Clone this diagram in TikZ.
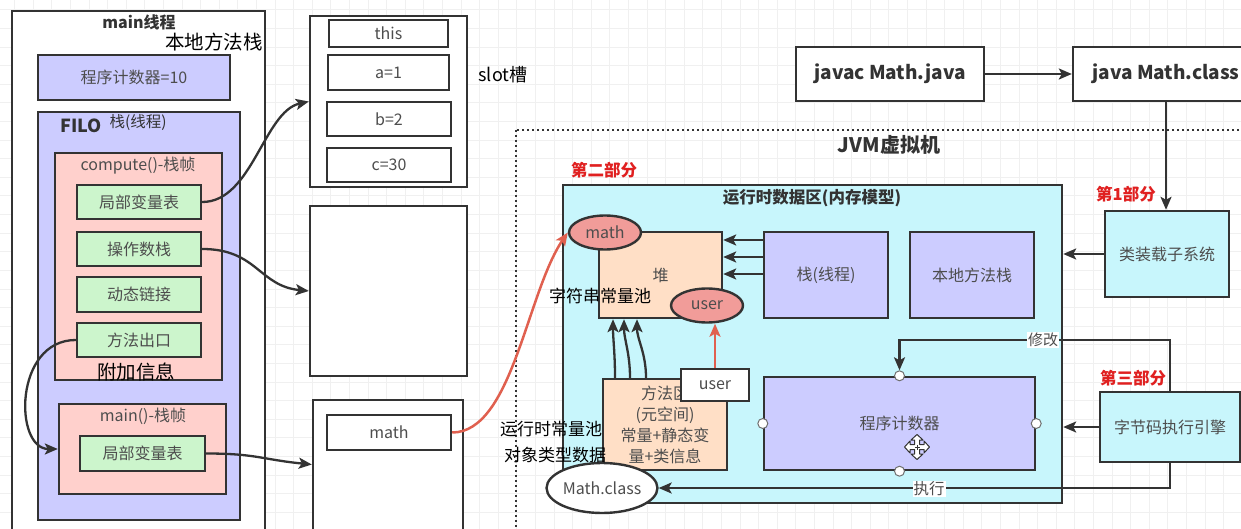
\documentclass[tikz,border=0pt]{standalone}
\usepackage{fontspec}
\setmainfont{Noto Sans CJK SC}
\usetikzlibrary{arrows.meta,shapes.geometric}
\definecolor{bd}{HTML}{333333}
\definecolor{txt}{HTML}{4D4D4D}
\definecolor{lav}{HTML}{CCCCFF}
\definecolor{pinkf}{HTML}{FFD0CC}
\definecolor{grn}{HTML}{CCF5CC}
\definecolor{cyn}{HTML}{C8F6FC}
\definecolor{pch}{HTML}{FFDFC6}
\definecolor{slm}{HTML}{F19C99}
\definecolor{redt}{HTML}{E02020}
\definecolor{reda}{HTML}{E0604F}
\definecolor{gridc}{HTML}{F0F0F0}
\begin{document}
\begin{tikzpicture}[x=1pt,y=-1pt,
  box/.style={draw=bd, line width=2.4pt, inner sep=0pt, text=txt, font=\fontsize{16pt}{20pt}\selectfont},
  ell/.style={ellipse, draw=bd, line width=2.4pt, inner sep=0pt, text=txt, font=\fontsize{16pt}{20pt}\selectfont},
  hd/.style={text=bd, font=\bfseries\fontsize{17pt}{20pt}\selectfont},
  lbl/.style={text=black, font=\fontsize{17pt}{20pt}\selectfont},
  redlbl/.style={text=redt, font=\bfseries\fontsize{16.5pt}{20pt}\selectfont},
  arr/.style={draw=bd, line width=2.3pt, -{Stealth[length=13pt,width=11pt,inset=3pt]}},
  rarr/.style={draw=reda, line width=2.5pt, -{Stealth[length=13pt,width=11pt,inset=3pt]}},
  port/.style={circle, draw=bd!70, fill=white, line width=1pt, minimum size=10pt, inner sep=0pt}
]
\clip (0,0) rectangle (1241,529);
\fill[white] (0,0) rectangle (1241,529);
\foreach \i in {0,...,66} { \draw[gridc, line width=1pt] ({14.6+18.6*\i},0) -- ++(0,529); }
\foreach \j in {0,...,28} { \draw[gridc, line width=1pt] (0,{10+18.6*\j}) -- ++(1241,0); }

% ---------- main thread ----------
\node[box, fill=white, minimum width=253pt, minimum height=528pt] (mt) at (138.5,275) {};
\node[hd, font=\bfseries\fontsize{16pt}{20pt}\selectfont] (mtl) at (139,22) {main线程};
\node[lbl, font=\fontsize{19.5pt}{22pt}\selectfont] (nms) at (214,42) {本地方法栈};
\node[box, fill=lav, minimum width=192pt, minimum height=45pt] (pc10) at (134,77.5) {程序计数器=10};
\node[box, fill=lav, minimum width=202pt, minimum height=408pt] (filo) at (139,316) {};
\node[hd, font=\bfseries\fontsize{18pt}{20pt}\selectfont] (filol) at (81,126) {FILO};
\node[text=bd, font=\fontsize{15.5pt}{20pt}\selectfont] (stkl) at (138,122) {栈(线程)};
\node[box, fill=pinkf, minimum width=167pt, minimum height=227pt] (cf) at (138.5,266.5) {};
\node[text=txt, font=\fontsize{16pt}{20pt}\selectfont] (cfl) at (138,166) {compute()-栈帧};
\node[box, fill=grn, minimum width=124pt, minimum height=34pt] (lv1) at (139,202) {局部变量表};
\node[box, fill=grn, minimum width=124pt, minimum height=34pt] (ops) at (139,249) {操作数栈};
\node[box, fill=grn, minimum width=124pt, minimum height=35pt] (dyn) at (139,294.5) {动态链接};
\node[box, fill=grn, minimum width=124pt, minimum height=34pt] (exit) at (139,340) {方法出口};
\node[lbl, font=\fontsize{19.5pt}{22pt}\selectfont] (extra) at (136,372) {附加信息};
\node[box, fill=pinkf, minimum width=167pt, minimum height=90pt] (mf) at (142.5,449) {};
\node[text=txt, font=\fontsize{16pt}{20pt}\selectfont] (mfl) at (143,416) {main()-栈帧};
\node[box, fill=grn, minimum width=125pt, minimum height=35pt] (lv2) at (142.5,453.5) {局部变量表};

% ---------- slot / operand / local boxes ----------
\node[box, fill=white, minimum width=157pt, minimum height=171pt] (slot) at (388.5,101.5) {};
\node[box, minimum width=119pt, minimum height=27pt] (this) at (388.5,33.5) {this};
\node[box, minimum width=121pt, minimum height=35pt] (a1) at (388.5,72.5) {a=1};
\node[box, minimum width=124pt, minimum height=34pt] (b2) at (389,119) {b=2};
\node[box, minimum width=124pt, minimum height=34pt] (c30) at (389,165) {c=30};
\node[lbl, font=\fontsize{18pt}{20pt}\selectfont] (slotl) at (503,75) {slot槽};
\node[box, fill=white, minimum width=157pt, minimum height=170pt] (opsbox) at (388.5,291) {};
\node[box, fill=white, minimum width=150pt, minimum height=145pt] (lvbox) at (388,472.5) {};
\node[box, minimum width=124pt, minimum height=35pt] (mathref) at (389,432.5) {math};

% ---------- top commands ----------
\node[box, fill=white, text=bd, font=\bfseries\fontsize{19pt}{22pt}\selectfont, minimum width=188pt, minimum height=54pt] (javac) at (890,74) {javac Math.java};
\node[box, fill=white, text=bd, font=\bfseries\fontsize{19pt}{22pt}\selectfont, minimum width=186pt, minimum height=54pt] (java) at (1166,74) {java Math.class};

% ---------- JVM ----------
\draw[bd, line width=2.5pt, dash pattern=on 2pt off 3pt] (516,130) rectangle (1260,545);
\node[hd, font=\bfseries\fontsize{20pt}{22pt}\selectfont] (jvml) at (889,145) {JVM虚拟机};
\node[redlbl] (p2) at (604,170) {第二部分};
\node[box, fill=cyn, minimum width=499pt, minimum height=318pt] (rda) at (812.5,344) {};
\node[hd, font=\bfseries\fontsize{16.5pt}{20pt}\selectfont] (rdal) at (812,198) {运行时数据区(内存模型)};
\node[box, fill=pch, minimum width=123pt, minimum height=86pt] (heap) at (660.5,275) {堆};
\node[box, fill=lav, minimum width=124pt, minimum height=86pt] (stk) at (826,275) {栈(线程)};
\node[box, fill=lav, minimum width=124pt, minimum height=86pt] (nat) at (972,275) {本地方法栈};
\node[ell, fill=slm, minimum width=72pt, minimum height=34pt] (mathE) at (605,232.5) {math};
\node[ell, fill=slm, minimum width=72pt, minimum height=34pt] (userE) at (707,305.5) {user};
\node[lbl] (scp) at (600,296) {字符串常量池};
\node[box, fill=pch, minimum width=124pt, minimum height=91pt, align=center, font=\fontsize{16pt}{21pt}\selectfont] (ma) at (665,424.5) {方法区\\(元空间)\\常量+静态变\\量+类信息};
\node[box, fill=white, minimum width=68pt, minimum height=32pt] (userR) at (715,385) {user};
\node[box, fill=lav, minimum width=271pt, minimum height=93pt] (pc) at (899.5,423.5) {程序计数器};
\node[port] (pcn) at (pc.north) {};
\node[port] (pcw) at (pc.west) {};
\node[port] (pce) at (pc.east) {};
\node[port] (pcs) at (pc.south) {};
% move cursor
\begin{scope}[shift={(917,447)}]
\filldraw[fill=white, draw=bd, line width=1pt, line join=round]
  (-2.5,-2.5) -- (-2.5,-7) -- (-6,-7) -- (0,-12.5) -- (6,-7) -- (2.5,-7) -- (2.5,-2.5)
  -- (7,-2.5) -- (7,-6) -- (12.5,0) -- (7,6) -- (7,2.5) -- (2.5,2.5)
  -- (2.5,7) -- (6,7) -- (0,12.5) -- (-6,7) -- (-2.5,7) -- (-2.5,2.5)
  -- (-7,2.5) -- (-7,6) -- (-12.5,0) -- (-7,-6) -- (-7,-2.5) -- cycle;
\draw[bd, line width=1pt] (-2.5,0) -- (2.5,0) (0,-2.5) -- (0,2.5);
\end{scope}
\node[ell, fill=white, minimum width=110pt, minimum height=50pt] (mc) at (602,488) {Math.class};
\node[lbl] (rcp) at (551,429) {运行时常量池};
\node[lbl] (otd) at (555,455) {对象类型数据};

\node[box, fill=cyn, minimum width=124pt, minimum height=86pt] (loader) at (1167,254) {类装载子系统};
\node[redlbl] (p1) at (1126,194) {第1部分};
\node[box, fill=cyn, minimum width=140pt, minimum height=70pt] (eng) at (1170,427) {字节码执行引擎};
\node[redlbl] (p3) at (1133,378) {第三部分};

% ---------- connectors ----------
\draw[arr] (lv1.east) .. controls +(50,0) and +(-45,10) .. (slot.west);
\draw[arr] (ops.east) .. controls +(55,0) and +(-50,-5) .. (opsbox.west);
\draw[arr] (exit.west) .. controls +(-62,0) and +(-44,0) .. (mf.west);
\draw[arr] (lv2.east) .. controls +(50,0) and +(-50,-5) .. ([yshift=8pt]lvbox.west);
\draw[rarr] (mathref.east) .. controls +(60,0) and +(-41,60) .. (mathE.west);
\draw[rarr] (userR.north) -- (userR.north |- userE.south);
\draw[arr] ([xshift=-50pt]ma.north) .. controls +(0,-25) and +(0,20) .. ([xshift=-47.5pt]heap.south);
\draw[arr] ([xshift=-35pt]ma.north) .. controls +(0,-25) and +(0,20) .. ([xshift=-36.5pt]heap.south);
\draw[arr] ([xshift=-19pt]ma.north) .. controls +(0,-25) and +(0,20) .. ([xshift=-23.5pt]heap.south);
\draw[arr] ([yshift=35pt]stk.west) -- ([yshift=35pt]heap.east);
\draw[arr] ([yshift=18pt]stk.west) -- ([yshift=18pt]heap.east);
\draw[arr] ([yshift=1pt]stk.west) -- ([yshift=1pt]heap.east);
\draw[arr] (javac.east) -- (java.west);
\draw[arr] (java.south) -- (java.south |- loader.north);
\draw[arr] (loader.west) -- (loader.west -| rda.east);
\draw[arr] (eng.west) -- (eng.west -| rda.east);
\coordinate (modY) at (0,340);
\draw[arr] (eng.north) -- (eng.north |- modY) -- (pcn |- modY) -- (pcn.north);
\node[fill=white, inner sep=1pt, text=txt, font=\fontsize{15pt}{18pt}\selectfont] (modl) at (1043,340) {修改};
\draw[arr] (eng.south) |- (mc.east);
\node[fill=white, inner sep=1pt, text=txt, font=\fontsize{15.5pt}{18pt}\selectfont] (exl) at (929,489) {执行};
\end{tikzpicture}
\end{document}
